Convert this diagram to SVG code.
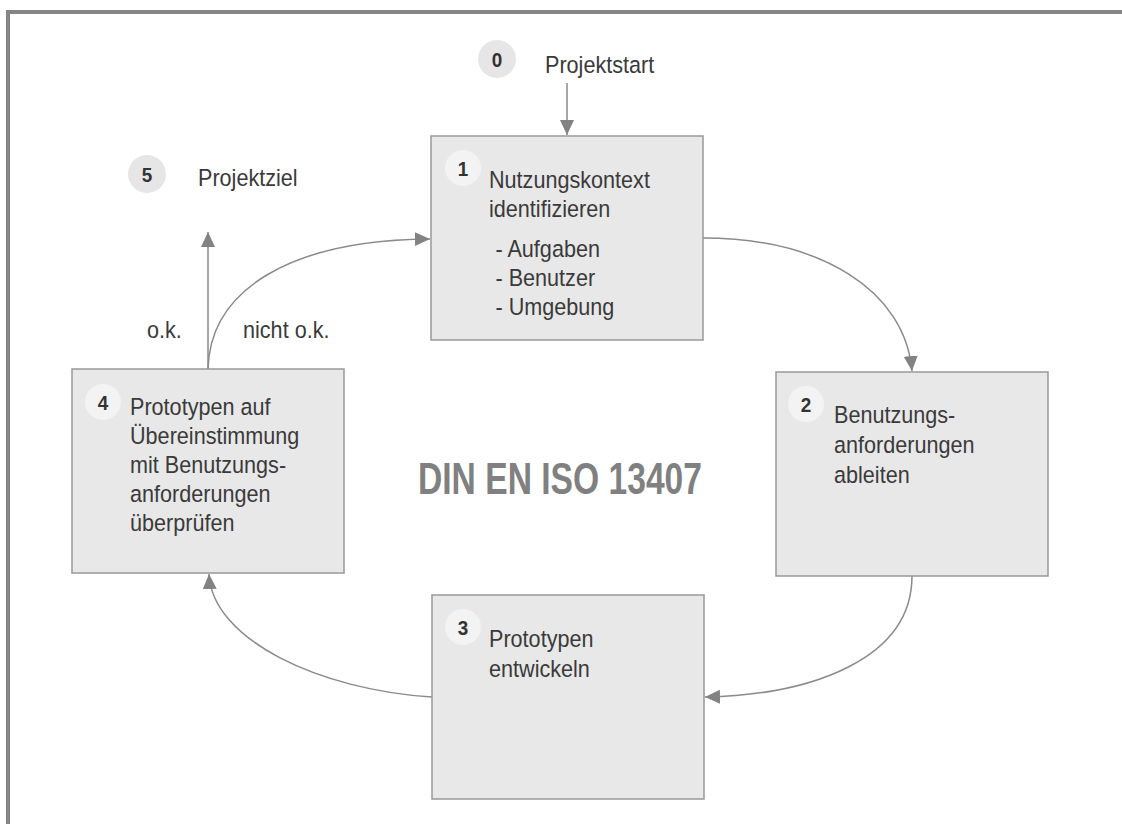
<svg xmlns="http://www.w3.org/2000/svg" width="1122" height="824" viewBox="0 0 1122 824">
  <style>
    .box { fill: #e8e8e8; stroke: #999999; stroke-width: 1.5; }
    .badge-in { fill: #f3f3f3; }
    .badge-out { fill: #e6e6e6; }
    .num { font-family: "Liberation Sans", Arial, sans-serif; font-size: 21px; font-weight: bold; fill: #333333; text-anchor: middle; }
    .t { font-family: "Liberation Sans", Arial, sans-serif; font-size: 23.5px; fill: #3a3a3a; }
    .title { font-family: "Liberation Sans", Arial, sans-serif; font-size: 44px; font-weight: bold; fill: #808080; }
    .link { fill: none; stroke: #8a8a8a; stroke-width: 1.5; }
  </style>
  <defs>
    <marker id="arrow" markerUnits="userSpaceOnUse" markerWidth="16" markerHeight="15" refX="15" refY="7" orient="auto">
      <path d="M0,0 L15,7 L0,14 z" fill="#828282"/>
    </marker>
  </defs>

  <rect width="1122" height="824" fill="#ffffff"/>
  <!-- outer frame, runs off the right and bottom edges -->
  <rect x="8" y="12" width="1130" height="830" fill="none" stroke="#858585" stroke-width="4"/>

  <!-- connectors -->
  <g id="connectors">
    <path class="link" d="M567,83 L567,135" marker-end="url(#arrow)"/>
    <path class="link" d="M703,238 C820,238 905,290 912,371" marker-end="url(#arrow)"/>
    <path class="link" d="M912,576 C912,660 810,695 705,697" marker-end="url(#arrow)"/>
    <path class="link" d="M432,697 C320,690 212,640 209,574" marker-end="url(#arrow)"/>
    <path class="link" d="M208,369 C210,290 290,240 430,239" marker-end="url(#arrow)"/>
    <path class="link" d="M208,369 L208,232" marker-end="url(#arrow)"/>
    <text class="t" transform="translate(147,338) scale(0.92,1)">o.k.</text>
    <text class="t" transform="translate(243,338) scale(0.92,1)">nicht o.k.</text>
  </g>

  <!-- start marker -->
  <g id="start">
    <circle class="badge-out" cx="497" cy="59" r="19"/>
    <text class="num" transform="translate(497,66.5) scale(0.9,1)">0</text>
    <text class="t" transform="translate(545,73) scale(0.92,1)">Projektstart</text>
  </g>

  <!-- goal marker -->
  <g id="goal">
    <circle class="badge-out" cx="147" cy="174" r="19"/>
    <text class="num" transform="translate(147,181.5) scale(0.9,1)">5</text>
    <text class="t" transform="translate(198,186) scale(0.92,1)">Projektziel</text>
  </g>

  <!-- step 1 -->
  <g id="step1">
    <rect class="box" x="431" y="136" width="272" height="204"/>
    <circle class="badge-in" cx="463" cy="168" r="18"/>
    <text class="num" transform="translate(463,175.5) scale(0.9,1)">1</text>
    <text class="t" transform="translate(489,188) scale(0.92,1)">
      <tspan x="0" y="0">Nutzungskontext</tspan>
      <tspan x="0" dy="29">identifizieren</tspan>
      <tspan x="7" dy="40">- Aufgaben</tspan>
      <tspan x="7" dy="29">- Benutzer</tspan>
      <tspan x="7" dy="29">- Umgebung</tspan>
    </text>
  </g>

  <!-- step 2 -->
  <g id="step2">
    <rect class="box" x="776" y="372" width="272" height="204"/>
    <circle class="badge-in" cx="806" cy="404" r="18"/>
    <text class="num" transform="translate(806,411.5) scale(0.9,1)">2</text>
    <text class="t" transform="translate(834,423) scale(0.92,1)">
      <tspan x="0" y="0">Benutzungs-</tspan>
      <tspan x="0" dy="30">anforderungen</tspan>
      <tspan x="0" dy="30">ableiten</tspan>
    </text>
  </g>

  <!-- step 3 -->
  <g id="step3">
    <rect class="box" x="432" y="595" width="272" height="204"/>
    <circle class="badge-in" cx="463" cy="627" r="18"/>
    <text class="num" transform="translate(463,634.5) scale(0.9,1)">3</text>
    <text class="t" transform="translate(489,647) scale(0.92,1)">
      <tspan x="0" y="0">Prototypen</tspan>
      <tspan x="0" dy="30">entwickeln</tspan>
    </text>
  </g>

  <!-- step 4 -->
  <g id="step4">
    <rect class="box" x="72" y="369" width="272" height="204"/>
    <circle class="badge-in" cx="103" cy="402" r="18"/>
    <text class="num" transform="translate(103,409.5) scale(0.9,1)">4</text>
    <text class="t" transform="translate(130,415) scale(0.92,1)">
      <tspan x="0" y="0">Prototypen auf</tspan>
      <tspan x="0" dy="29">Übereinstimmung</tspan>
      <tspan x="0" dy="29">mit Benutzungs-</tspan>
      <tspan x="0" dy="29">anforderungen</tspan>
      <tspan x="0" dy="29">überprüfen</tspan>
    </text>
  </g>

  <!-- standard caption -->
  <g id="caption">
    <text class="title" x="418" y="494" textLength="284" lengthAdjust="spacingAndGlyphs">DIN EN ISO 13407</text>
  </g>
</svg>
